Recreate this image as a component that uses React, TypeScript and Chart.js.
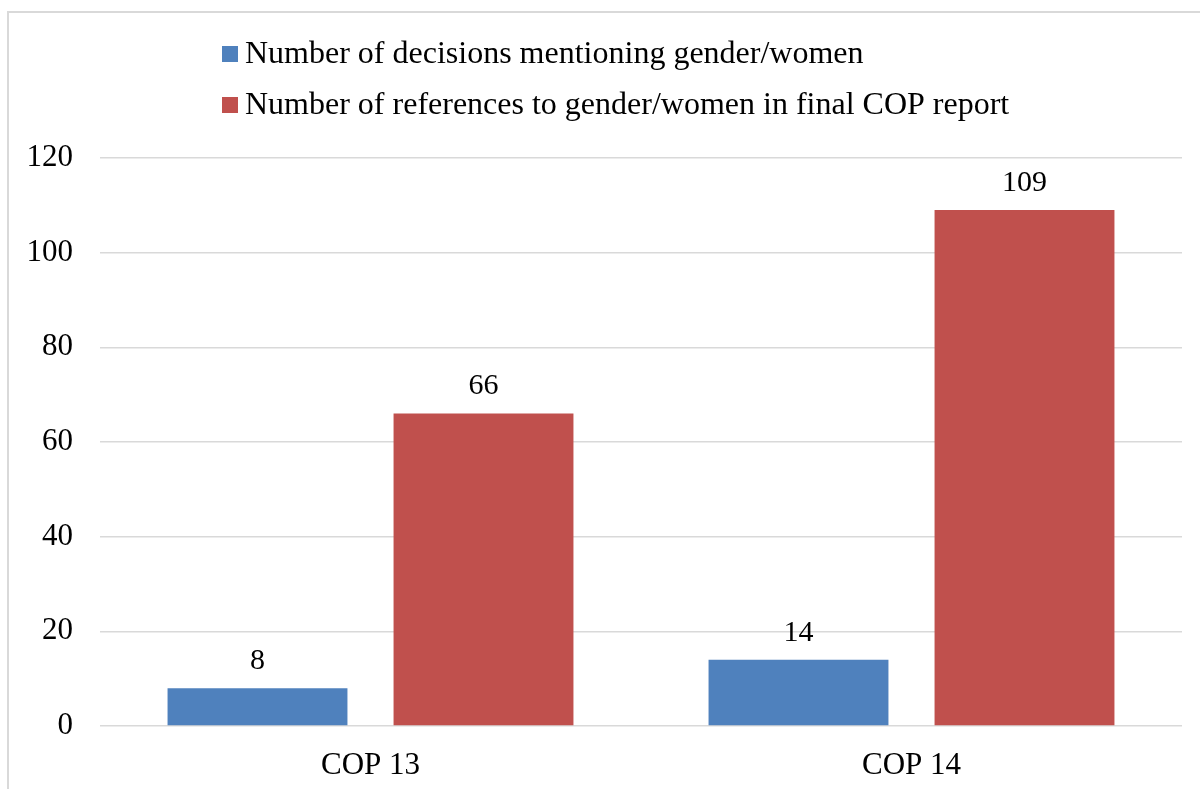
import React, { useEffect, useRef } from "react";
import { Chart, registerables } from "chart.js";

Chart.register(...registerables);

const categories = ["COP 13", "COP 14"];
const decisionsSeries = [8, 14];
const referencesSeries = [66, 109];
const seriesLabels = [
  "Number of decisions mentioning gender/women",
  "Number of references to gender/women in final COP report",
];
const seriesColors = ["#4f81bd", "#c0504d"];
const yTicks = [0, 20, 40, 60, 80, 100, 120];

const FONT_FAMILY = "'Liberation Serif', 'Times New Roman', serif";
const AXIS_FONT = 31;
const LEGEND_FONT = 32;
const VALUE_FONT = 30;

const valueLabelPlugin = {
  id: "valueLabels",
  afterDatasetsDraw(chart: any) {
    const ctx = chart.ctx;
    ctx.save();
    ctx.font = `${VALUE_FONT}px ${FONT_FAMILY}`;
    ctx.fillStyle = "#000";
    ctx.textAlign = "center";
    ctx.textBaseline = "middle";
    chart.data.datasets.forEach((ds: any, di: number) => {
      const meta = chart.getDatasetMeta(di);
      meta.data.forEach((bar: any, i: number) => {
        ctx.fillText(String(ds.data[i]), bar.x, bar.y - 27);
      });
    });
    ctx.restore();
  },
};

const customLegendPlugin = {
  id: "customLegend",
  afterDraw(chart: any) {
    const ctx = chart.ctx;
    ctx.save();
    ctx.font = `${LEGEND_FONT}px ${FONT_FAMILY}`;
    ctx.textAlign = "left";
    ctx.textBaseline = "alphabetic";
    const x0 = 222;
    const boxCenters = [54, 105];
    const baselines = [63, 114];
    chart.data.datasets.forEach((ds: any, di: number) => {
      ctx.fillStyle = ds.backgroundColor;
      ctx.fillRect(x0, boxCenters[di] - 8, 16, 16);
      ctx.fillStyle = "#000";
      ctx.fillText(ds.label, x0 + 23, baselines[di]);
    });
    ctx.restore();
  },
};

export default function App() {
  const canvasRef = useRef<HTMLCanvasElement | null>(null);

  useEffect(() => {
    if (!canvasRef.current) return;
    const chart = new Chart(canvasRef.current, {
      type: "bar",
      data: {
        labels: categories,
        datasets: [
          {
            label: seriesLabels[0],
            data: decisionsSeries,
            backgroundColor: seriesColors[0],
            categoryPercentage: 0.8355,
            barPercentage: 0.796,
          },
          {
            label: seriesLabels[1],
            data: referencesSeries,
            backgroundColor: seriesColors[1],
            categoryPercentage: 0.8355,
            barPercentage: 0.796,
          },
        ],
      },
      options: {
        responsive: false,
        animation: false,
        layout: { padding: { top: 158, right: 18, left: 0, bottom: 0 } },
        plugins: {
          legend: { display: false },
          tooltip: { enabled: false },
        },
        scales: {
          x: {
            grid: { display: false, drawTicks: false },
            border: { display: false },
            ticks: {
              color: "#000",
              font: { family: FONT_FAMILY, size: AXIS_FONT },
              padding: 21,
            },
            afterFit(scale: any) {
              scale.height = 63;
            },
          },
          y: {
            min: 0,
            max: 120,
            afterBuildTicks(scale: any) {
              scale.ticks = yTicks.map((v) => ({ value: v }));
            },
            grid: { color: "#d9d9d9", lineWidth: 1.5, drawTicks: false },
            border: { display: false },
            ticks: {
              color: "#000",
              font: { family: FONT_FAMILY, size: AXIS_FONT },
              padding: 27,
            },
            afterFit(scale: any) {
              scale.width = 100;
            },
          },
        },
      },
      plugins: [valueLabelPlugin, customLegendPlugin],
    });
    return () => chart.destroy();
  }, []);

  return (
    <div style={{ position: "fixed", left: 0, top: 0, width: 1200, height: 789, overflow: "hidden", background: "#fff" }}>
      <div
        style={{
          position: "absolute",
          left: 7,
          top: 11,
          width: 1210,
          height: 800,
          borderLeft: "2px solid #d9d9d9",
          borderTop: "2px solid #d9d9d9",
        }}
      />
      <canvas ref={canvasRef} width={1200} height={789} style={{ position: "absolute", left: 0, top: 0 }} />
    </div>
  );
}
